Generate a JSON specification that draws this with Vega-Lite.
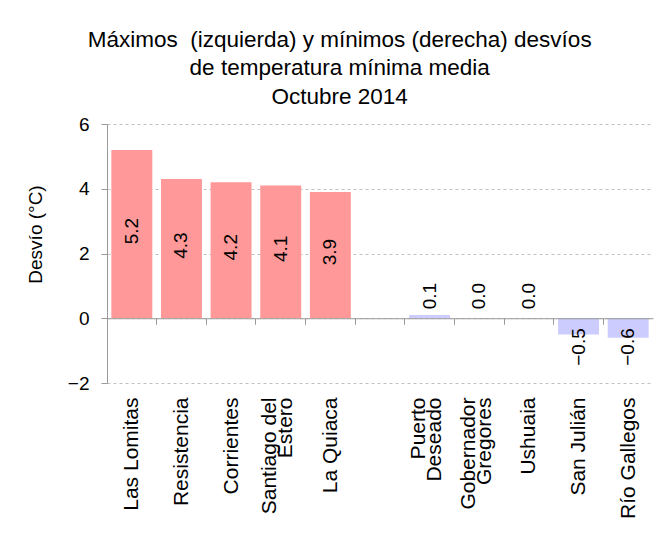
{
  "$schema": "https://vega.github.io/schema/vega-lite/v6.json",
  "width": 546,
  "height": 259,
  "autosize": {"type": "none"},
  "padding": {"left": 107, "top": 124, "right": 19, "bottom": 156},
  "background": "white",
  "config": {"font": "Liberation Sans", "view": {"stroke": null}},
  "title": {
    "text": ["Máximos\u00a0 (izquierda) y mínimos (derecha) desvíos", "de temperatura mínima media", "Octubre 2014"],
    "fontSize": 22.5,
    "fontWeight": "normal",
    "lineHeight": 28.5,
    "anchor": "middle",
    "frame": "bounds",
    "offset": 7,
    "color": "black",
    "font": "Liberation Sans"
  },
  "data": {
    "values": [
      {"station": "Las Lomitas", "value": 5.2, "group": "max"},
      {"station": "Resistencia", "value": 4.3, "group": "max"},
      {"station": "Corrientes", "value": 4.2, "group": "max"},
      {"station": "Santiago del Estero", "value": 4.1, "group": "max"},
      {"station": "La Quiaca", "value": 3.9, "group": "max"},
      {"station": "Puerto Deseado", "value": 0.1, "group": "min"},
      {"station": "Gobernador Gregores", "value": 0.0, "group": "min"},
      {"station": "Ushuaia", "value": 0.0, "group": "min"},
      {"station": "San Julián", "value": -0.5, "group": "min"},
      {"station": "Río Gallegos", "value": -0.6, "group": "min"}
    ]
  },
  "encoding": {
    "y": {
      "field": "value",
      "type": "quantitative",
      "title": "Desvío (°C)",
      "scale": {"domain": [-2, 6], "nice": false, "zero": false},
      "axis": {
        "values": [-2, 0, 2, 4, 6],
        "grid": true,
        "gridDash": [3, 3],
        "gridColor": "#c0c0c0",
        "domainColor": "#999999",
        "tickColor": "#999999",
        "tickSize": 6,
        "labelFontSize": 19,
        "labelColor": "black",
        "labelPadding": 12,
        "labelFont": "Liberation Sans",
        "titleFont": "Liberation Sans",
        "titleFontSize": 19,
        "titleFontWeight": "normal",
        "titleColor": "black",
        "titlePadding": 22,
        "titleY": 110
      }
    }
  },
  "resolve": {"scale": {"x": "independent"}},
  "layer": [
    {
      "encoding": {
        "x": {
          "field": "station",
          "type": "nominal",
          "sort": null,
          "scale": {
            "domain": ["Las Lomitas", "Resistencia", "Corrientes", "Santiago del Estero", "La Quiaca", " ", "Puerto Deseado", "Gobernador Gregores", "Ushuaia", "San Julián", "Río Gallegos"],
            "paddingInner": 0,
            "paddingOuter": 0
          },
          "axis": {
            "orient": "bottom",
            "title": null,
            "labels": false,
            "bandPosition": 0,
            "ticks": true,
            "tickSize": 6,
            "tickColor": "#999999",
            "domain": true,
            "domainColor": "#999999",
            "offset": -64.75,
            "zindex": 1,
            "grid": false
          }
        }
      },
      "layer": [
        {
          "mark": {"type": "bar", "width": {"band": 0.825}},
          "encoding": {
            "color": {
              "field": "group",
              "type": "nominal",
              "scale": {"domain": ["max", "min"], "range": ["#FF9999", "#CCCCFF"]},
              "legend": null
            }
          }
        },
        {
          "transform": [
            {"filter": "datum.group == 'max'"},
            {"calculate": "datum.value / 2", "as": "labelPos"}
          ],
          "mark": {"type": "text", "angle": 270, "align": "center", "baseline": "middle", "fontSize": 19, "color": "black", "font": "Liberation Sans", "dx": 3},
          "encoding": {
            "y": {"field": "labelPos", "type": "quantitative"},
            "text": {"field": "value", "type": "quantitative", "format": ".1f"}
          }
        },
        {
          "transform": [{"filter": "datum.group == 'min' && datum.value >= 0"}],
          "mark": {"type": "text", "angle": 270, "align": "left", "baseline": "middle", "dx": 9, "fontSize": 19, "color": "black", "font": "Liberation Sans"},
          "encoding": {
            "y": {"datum": 0},
            "text": {"field": "value", "type": "quantitative", "format": ".1f"}
          }
        },
        {
          "transform": [{"filter": "datum.group == 'min' && datum.value < 0"}],
          "mark": {"type": "text", "angle": 270, "align": "right", "baseline": "middle", "dx": -10, "fontSize": 19, "color": "black", "font": "Liberation Sans"},
          "encoding": {
            "y": {"datum": 0},
            "text": {"field": "value", "type": "quantitative", "format": ".1f"}
          }
        }
      ]
    },
    {
      "mark": {"type": "point", "opacity": 0},
      "encoding": {
        "x": {
          "field": "station",
          "type": "nominal",
          "sort": null,
          "scale": {
            "domain": ["Las Lomitas", "Resistencia", "Corrientes", "Santiago del Estero", "La Quiaca", " ", "Puerto Deseado", "Gobernador Gregores", "Ushuaia", "San Julián", "Río Gallegos"],
            "paddingInner": 0,
            "paddingOuter": 0
          },
          "axis": {
            "orient": "bottom",
            "title": null,
            "ticks": false,
            "domain": false,
            "grid": false,
            "labelAngle": 270,
            "labelAlign": "right",
            "labelBaseline": "middle",
            "labelFontSize": 21,
            "labelFont": "Liberation Sans",
            "labelColor": "black",
            "labelPadding": 14,
            "labelLineHeight": 16,
            "labelLimit": 0,
            "labelOffset": {"condition": {"test": "datum.label == 'Santiago del Estero' || datum.label == 'Puerto Deseado' || datum.label == 'Gobernador Gregores'", "value": -11}, "value": 0},
            "labelExpr": "datum.label == 'Santiago del Estero' ? ['Santiago del', 'Estero'] : datum.label == 'Puerto Deseado' ? ['Puerto', 'Deseado'] : datum.label == 'Gobernador Gregores' ? ['Gobernador', 'Gregores'] : datum.label"
          }
        }
      }
    }
  ]
}
